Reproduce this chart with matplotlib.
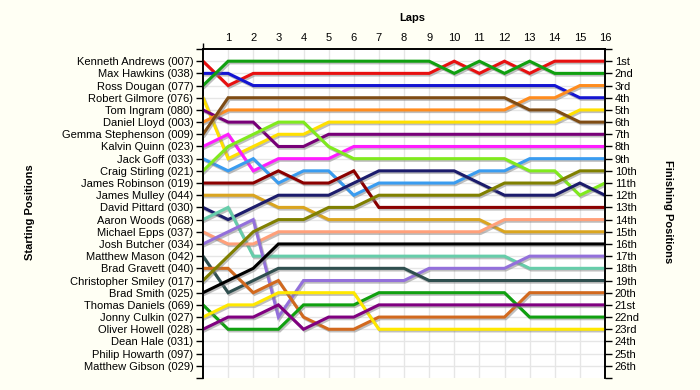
import matplotlib
matplotlib.use("Agg")
import matplotlib.pyplot as plt
import matplotlib.patheffects as pe

plt.rcParams['font.family'] = ['Liberation Sans', 'DejaVu Sans']

laps = list(range(17))

drivers = [
    'Kenneth Andrews (007)', 'Max Hawkins (038)', 'Ross Dougan (077)',
    'Robert Gilmore (076)', 'Tom Ingram (080)', 'Daniel Lloyd (003)',
    'Gemma Stephenson (009)', 'Kalvin Quinn (023)', 'Jack Goff (033)',
    'Craig Stirling (021)', 'James Robinson (019)', 'James Mulley (044)',
    'David Pittard (030)', 'Aaron Woods (068)', 'Michael Epps (037)',
    'Josh Butcher (034)', 'Matthew Mason (042)', 'Brad Gravett (040)',
    'Christopher Smiley (017)', 'Brad Smith (025)', 'Thomas Daniels (069)',
    'Jonny Culkin (027)', 'Oliver Howell (028)', 'Dean Hale (031)',
    'Philip Howarth (097)', 'Matthew Gibson (029)',
]

finish_labels = ['1st', '2nd', '3rd'] + [f'{i}th' for i in range(4, 21)] + \
    ['21st', '22nd', '23rd', '24th', '25th', '26th']

# position at the end of each lap (lap 0 = grid)
kenneth_andrews = [1, 3, 2, 2, 2, 2, 2, 2, 2, 2, 1, 2, 1, 2, 1, 1, 1]
max_hawkins = [2, 2, 3, 3, 3, 3, 3, 3, 3, 3, 3, 3, 3, 3, 3, 4, 4]
ross_dougan = [3, 1, 1, 1, 1, 1, 1, 1, 1, 1, 2, 1, 2, 1, 2, 2, 2]
robert_gilmore = [4, 9, 8, 7, 7, 6, 6, 6, 6, 6, 6, 6, 6, 6, 6, 5, 5]
tom_ingram = [5, 6, 6, 8, 8, 7, 7, 7, 7, 7, 7, 7, 7, 7, 7, 7, 7]
daniel_lloyd = [6, 5, 5, 5, 5, 5, 5, 5, 5, 5, 5, 5, 5, 4, 4, 3, 3]
gemma_stephenson = [7, 4, 4, 4, 4, 4, 4, 4, 4, 4, 4, 4, 4, 5, 5, 6, 6]
kalvin_quinn = [8, 7, 10, 9, 9, 9, 8, 8, 8, 8, 8, 8, 8, 8, 8, 8, 8]
jack_goff = [9, 10, 9, 11, 10, 10, 12, 11, 11, 11, 11, 10, 10, 9, 9, 9, 9]
craig_stirling = [10, 8, 7, 6, 6, 8, 9, 9, 9, 9, 9, 9, 9, 10, 10, 12, 11]
james_robinson = [11, 11, 11, 10, 11, 11, 10, 13, 13, 13, 13, 13, 13, 13, 13, 13, 13]
james_mulley = [12, 12, 12, 13, 13, 14, 14, 14, 14, 14, 14, 14, 15, 15, 15, 15, 15]
david_pittard = [13, 14, 13, 12, 12, 12, 11, 10, 10, 10, 10, 11, 12, 12, 12, 11, 12]
aaron_woods = [14, 13, 17, 17, 17, 17, 17, 17, 17, 17, 17, 17, 17, 18, 18, 18, 18]
michael_epps = [15, 16, 16, 15, 15, 15, 15, 15, 15, 15, 15, 15, 14, 14, 14, 14, 14]
josh_butcher = [16, 15, 14, 22, 19, 19, 19, 19, 19, 18, 18, 18, 18, 17, 17, 17, 17]
matthew_mason = [17, 20, 19, 18, 18, 18, 18, 18, 18, 19, 19, 19, 19, 19, 19, 19, 19]
brad_gravett = [18, 18, 20, 19, 22, 23, 23, 22, 22, 22, 22, 22, 22, 20, 20, 20, 20]
christopher_smiley = [19, 17, 15, 14, 14, 13, 13, 12, 12, 12, 12, 12, 11, 11, 11, 10, 10]
brad_smith = [20, 19, 18, 16, 16, 16, 16, 16, 16, 16, 16, 16, 16, 16, 16, 16, 16]
thomas_daniels = [21, 23, 23, 23, 21, 21, 21, 20, 20, 20, 20, 20, 20, 22, 22, 22, 22]
jonny_culkin = [22, 21, 21, 20, 20, 20, 20, 23, 23, 23, 23, 23, 23, 23, 23, 23, 23]
oliver_howell = [23, 22, 22, 21, 23, 22, 22, 21, 21, 21, 21, 21, 21, 21, 21, 21, 21]

lap_positions = [
    kenneth_andrews, max_hawkins, ross_dougan, robert_gilmore, tom_ingram,
    daniel_lloyd, gemma_stephenson, kalvin_quinn, jack_goff, craig_stirling,
    james_robinson, james_mulley, david_pittard, aaron_woods, michael_epps,
    josh_butcher, matthew_mason, brad_gravett, christopher_smiley, brad_smith,
    thomas_daniels, jonny_culkin, oliver_howell,
]

colours = [
    '#e81010', '#1414d2', '#10a010', '#ffe000', '#780078', '#ff8c1e',
    '#7f4c14', '#ff1cff', '#3a9cf0', '#80ea1e', '#8b0000', '#daa520',
    '#1c1c6c', '#66cdaa', '#ffa07a', '#9370db', '#2f4f4f', '#d2691e',
    '#808000', '#000000', '#10a010', '#ffe800', '#800080',
]

fig = plt.figure(figsize=(7, 3.9), dpi=100, facecolor='#fffff4')
ax = fig.add_axes([203 / 700, 1 - 378 / 390, 402 / 700, 329 / 390])
ax.set_facecolor('white')

shadow = [pe.SimpleLineShadow(offset=(1, -1.2), shadow_color='#808080', alpha=0.5),
          pe.Normal()]
for pos, col in zip(lap_positions, colours):
    ax.plot(laps, pos, color=col, linewidth=2.2, solid_joinstyle='miter',
            path_effects=shadow, zorder=3)

ax.set_xlim(0, 16)
ax.set_ylim(27, 0)

# top axis: laps
ax.xaxis.tick_top()
ax.set_xticks(laps[1:])
ax.set_xticks([0, 16], minor=True)
ax.tick_params(axis='x', which='major', length=0, pad=4, labelsize=8)
ax.tick_params(axis='x', which='minor', length=4, width=1, top=True, bottom=False)

# left axis: starting positions
rows = list(range(1, 27))
ax.set_yticks(rows)
ax.set_yticklabels(drivers)
ax.set_yticks([0, 27], minor=True)
ax.tick_params(axis='y', which='both', length=5, width=1, labelsize=8,
               direction='out', pad=2)

# right axis: finishing positions
ax2 = ax.twinx()
ax2.set_ylim(27, 0)
ax2.set_yticks(rows)
ax2.set_yticklabels(finish_labels)
ax2.set_yticks([0, 27], minor=True)
ax2.tick_params(axis='y', which='both', length=5, width=1, labelsize=8, pad=2)

fig.text(412 / 700, 1 - 18 / 390, 'Laps', fontsize=8, fontweight='bold',
         ha='center', va='center')
fig.text(30 / 700, 1 - 212 / 390, 'Starting Positions', fontsize=8,
         fontweight='bold', rotation=90, ha='center', va='center')
fig.text(668 / 700, 1 - 212 / 390, 'Finishing Positions', fontsize=8,
         fontweight='bold', rotation=270, ha='center', va='center')

# grid
for lap in laps[1:]:
    ax.axvline(lap, color='#e6e6e6', linewidth=1, zorder=1)
for r in rows:
    ax.axhline(r, color='#e6e6e6', linewidth=1, zorder=1)

for a in (ax, ax2):
    a.spines['bottom'].set_visible(False)
    for s in ('left', 'right', 'top'):
        a.spines[s].set_linewidth(1.2)

fig.savefig('out.png', dpi=100, facecolor=fig.get_facecolor())
